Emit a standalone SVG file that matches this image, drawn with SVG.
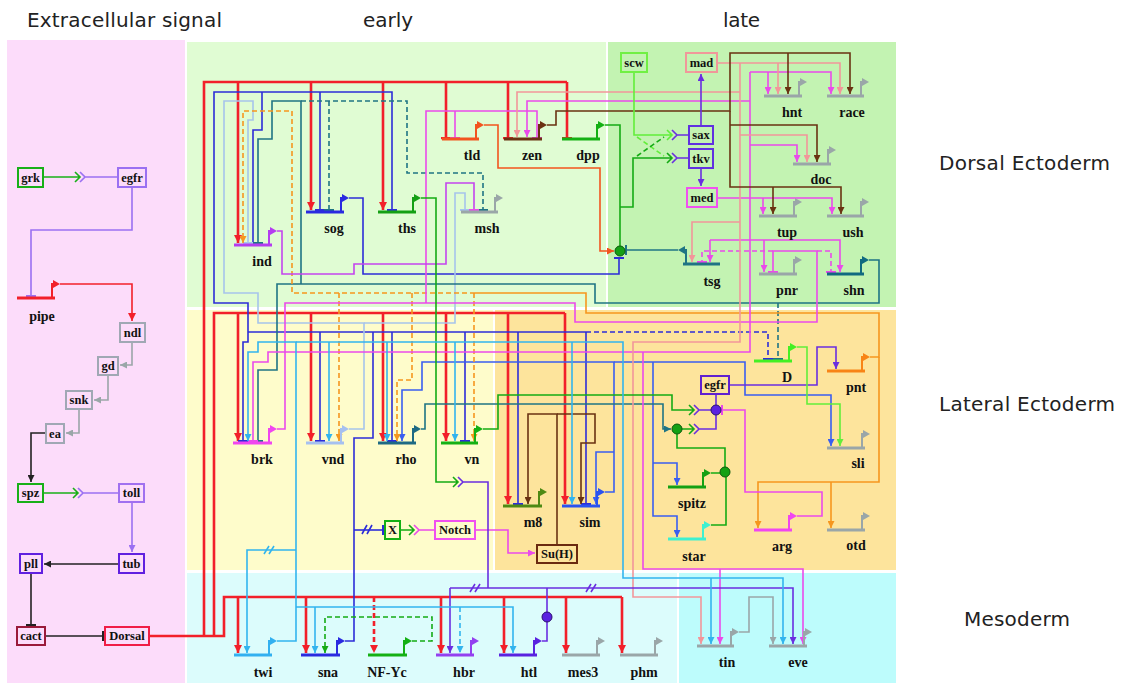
<svg xmlns="http://www.w3.org/2000/svg" width="1122" height="683" viewBox="0 0 1122 683">
<style>
.w{fill:none;stroke-width:1.6}
.rd{fill:none;stroke:#f2202a;stroke-width:2.6}
.d{stroke-dasharray:5 3}
.bar{stroke-width:3;fill:none}
.pr{stroke-width:2;fill:none}
.bxr{fill:none;stroke-width:2}
.lb{font-family:"Liberation Serif",serif;font-weight:bold;font-size:14px;text-anchor:middle;fill:#111}
.bt{font-family:"Liberation Serif",serif;font-weight:bold;font-size:12.5px;text-anchor:middle;fill:#111}
.tt{font-family:"DejaVu Sans",sans-serif;font-size:20px;fill:#222}
</style>
<defs>
<marker id="aR" viewBox="0 0 8 8" refX="8" refY="4" markerWidth="8" markerHeight="8" markerUnits="userSpaceOnUse" orient="auto"><path d="M0,0L8,4L0,8z" fill="#f2202a"/></marker>
<marker id="tR" viewBox="0 0 3 10" refX="1.5" refY="5" markerWidth="3" markerHeight="10" markerUnits="userSpaceOnUse" orient="auto"><path d="M1.5,0V10" stroke="#f2202a" stroke-width="2.5"/></marker>
<marker id="aB" viewBox="0 0 8 8" refX="8" refY="4" markerWidth="7" markerHeight="7" markerUnits="userSpaceOnUse" orient="auto"><path d="M0,0L8,4L0,8z" fill="#2c2cd8"/></marker>
<marker id="tB" viewBox="0 0 3 10" refX="1.5" refY="5" markerWidth="3" markerHeight="10" markerUnits="userSpaceOnUse" orient="auto"><path d="M1.5,0V10" stroke="#2c2cd8" stroke-width="2"/></marker>
<marker id="aB2" viewBox="0 0 8 8" refX="8" refY="4" markerWidth="7" markerHeight="7" markerUnits="userSpaceOnUse" orient="auto"><path d="M0,0L8,4L0,8z" fill="#3a5ef0"/></marker>
<marker id="tLB" viewBox="0 0 3 10" refX="1.5" refY="5" markerWidth="3" markerHeight="10" markerUnits="userSpaceOnUse" orient="auto"><path d="M1.5,0V10" stroke="#a6c4ec" stroke-width="2"/></marker>
<marker id="aC" viewBox="0 0 8 8" refX="8" refY="4" markerWidth="7" markerHeight="7" markerUnits="userSpaceOnUse" orient="auto"><path d="M0,0L8,4L0,8z" fill="#32b4ee"/></marker>
<marker id="aT" viewBox="0 0 8 8" refX="8" refY="4" markerWidth="7" markerHeight="7" markerUnits="userSpaceOnUse" orient="auto"><path d="M0,0L8,4L0,8z" fill="#1f7484"/></marker>
<marker id="tT" viewBox="0 0 3 10" refX="1.5" refY="5" markerWidth="3" markerHeight="10" markerUnits="userSpaceOnUse" orient="auto"><path d="M1.5,0V10" stroke="#1f7484" stroke-width="2"/></marker>
<marker id="aO" viewBox="0 0 8 8" refX="8" refY="4" markerWidth="7" markerHeight="7" markerUnits="userSpaceOnUse" orient="auto"><path d="M0,0L8,4L0,8z" fill="#f6961e"/></marker>
<marker id="aOR" viewBox="0 0 8 8" refX="8" refY="4" markerWidth="7" markerHeight="7" markerUnits="userSpaceOnUse" orient="auto"><path d="M0,0L8,4L0,8z" fill="#f2541e"/></marker>
<marker id="aM" viewBox="0 0 8 8" refX="8" refY="4" markerWidth="7" markerHeight="7" markerUnits="userSpaceOnUse" orient="auto"><path d="M0,0L8,4L0,8z" fill="#ea4aea"/></marker>
<marker id="tM" viewBox="0 0 3 10" refX="1.5" refY="5" markerWidth="3" markerHeight="10" markerUnits="userSpaceOnUse" orient="auto"><path d="M1.5,0V10" stroke="#ea4aea" stroke-width="2"/></marker>
<marker id="aP" viewBox="0 0 8 8" refX="8" refY="4" markerWidth="7" markerHeight="7" markerUnits="userSpaceOnUse" orient="auto"><path d="M0,0L8,4L0,8z" fill="#f2969a"/></marker>
<marker id="aBR" viewBox="0 0 8 8" refX="8" refY="4" markerWidth="7" markerHeight="7" markerUnits="userSpaceOnUse" orient="auto"><path d="M0,0L8,4L0,8z" fill="#6a3212"/></marker>
<marker id="aG" viewBox="0 0 8 8" refX="8" refY="4" markerWidth="7" markerHeight="7" markerUnits="userSpaceOnUse" orient="auto"><path d="M0,0L8,4L0,8z" fill="#14aa14"/></marker>
<marker id="aLG" viewBox="0 0 8 8" refX="8" refY="4" markerWidth="7" markerHeight="7" markerUnits="userSpaceOnUse" orient="auto"><path d="M0,0L8,4L0,8z" fill="#62ee3a"/></marker>
<marker id="aPU" viewBox="0 0 8 8" refX="8" refY="4" markerWidth="7" markerHeight="7" markerUnits="userSpaceOnUse" orient="auto"><path d="M0,0L8,4L0,8z" fill="#6a2ee0"/></marker>
<marker id="aPU2" viewBox="0 0 8 8" refX="8" refY="4" markerWidth="7" markerHeight="7" markerUnits="userSpaceOnUse" orient="auto"><path d="M0,0L8,4L0,8z" fill="#9a70f2"/></marker>
<marker id="tPU2" viewBox="0 0 3 10" refX="1.5" refY="5" markerWidth="3" markerHeight="10" markerUnits="userSpaceOnUse" orient="auto"><path d="M1.5,0V10" stroke="#9a70f2" stroke-width="2"/></marker>
<marker id="aGY" viewBox="0 0 8 8" refX="8" refY="4" markerWidth="7" markerHeight="7" markerUnits="userSpaceOnUse" orient="auto"><path d="M0,0L8,4L0,8z" fill="#9aa6a8"/></marker>
<marker id="aK" viewBox="0 0 8 8" refX="8" refY="4" markerWidth="7" markerHeight="7" markerUnits="userSpaceOnUse" orient="auto"><path d="M0,0L8,4L0,8z" fill="#222"/></marker>
<marker id="tK" viewBox="0 0 3 10" refX="1.5" refY="5" markerWidth="3" markerHeight="10" markerUnits="userSpaceOnUse" orient="auto"><path d="M1.5,0V10" stroke="#222" stroke-width="2"/></marker>
</defs>
<rect width="1122" height="683" fill="#ffffff"/>
<g id="panels">
<rect x="7" y="40" width="178" height="643" fill="#fcdcfa"/>
<rect x="187" y="42" width="419" height="265" fill="#e0fcd3"/>
<rect x="608" y="42" width="288" height="265" fill="#c3f3b2"/>
<rect x="187" y="310" width="306" height="260" fill="#fefccb"/>
<rect x="495" y="310" width="401" height="260" fill="#fde49c"/>
<rect x="187" y="573" width="490" height="110" fill="#dcfcfc"/>
<rect x="679" y="573" width="217" height="110" fill="#bdfcfc"/>
</g>
<g id="titles">
<text class="tt" x="27" y="27" textLength="195">Extracellular signal</text>
<text class="tt" x="363" y="27" textLength="50">early</text>
<text class="tt" x="723" y="27" textLength="37">late</text>
<text class="tt" x="939" y="170" textLength="171">Dorsal Ectoderm</text>
<text class="tt" x="939" y="411" textLength="176">Lateral Ectoderm</text>
<text class="tt" x="964" y="626" textLength="106">Mesoderm</text>
</g>
<g id="connectors">
<path class="w" stroke="#18b018" d="M43,177 H80 M75,172 L80,177 L75,182"/>
<path class="w" stroke="#9a70f2" d="M80,172 L85,177 L80,182 M85,177 H118"/>
<path class="w" stroke="#9a70f2" d="M132,187 V230 H31 V296" marker-end="url(#tPU2)"/>
<path class="w" stroke="#f2202a" stroke-width="2" d="M60,284 H132 V321" marker-end="url(#aR)"/>
<path class="w" stroke="#9aa6a8" d="M132,342 V365 H120" marker-end="url(#aGY)"/>
<path class="w" stroke="#9aa6a8" d="M108,375 V400 H94" marker-end="url(#aGY)"/>
<path class="w" stroke="#9aa6a8" d="M79,409 V433 H66" marker-end="url(#aGY)"/>
<path class="w" stroke="#222" d="M46,433 H31 V482" marker-end="url(#aK)"/>
<path class="w" stroke="#18b018" d="M43,493 H78 M73,488 L78,493 L73,498"/>
<path class="w" stroke="#9a70f2" d="M78,488 L83,493 L78,498 M83,493 H119"/>
<path class="w" stroke="#9a70f2" d="M132,502 V552" marker-end="url(#aPU2)"/>
<path class="w" stroke="#222" d="M119,564 H44" marker-end="url(#aK)"/>
<path class="w" stroke="#222" d="M31,573 V625" marker-end="url(#tK)"/>
<path class="w" stroke="#222" d="M45,636 H103" marker-end="url(#tK)"/>
<path class="rd" d="M149,636 H224 V597 H622"/>
<path class="rd" d="M204,636 V82 H567"/>
<path class="rd" d="M214,636 V313 H565"/>
<path class="rd" d="M238,82 V243" marker-end="url(#aR)"/>
<path class="rd" d="M311,82 V210" marker-end="url(#aR)"/>
<path class="rd" d="M383,82 V210" marker-end="url(#aR)"/>
<path class="rd" d="M446,82 V138" marker-end="url(#tR)"/>
<path class="rd" d="M508,82 V138" marker-end="url(#tR)"/>
<path class="rd" d="M567,82 V138" marker-end="url(#tR)"/>
<path class="rd" d="M238,313 V441" marker-end="url(#aR)"/>
<path class="rd" d="M311,313 V441" marker-end="url(#aR)"/>
<path class="rd" d="M383,313 V441" marker-end="url(#aR)"/>
<path class="rd" d="M446,313 V441" marker-end="url(#aR)"/>
<path class="rd" d="M508,313 V504" marker-end="url(#aR)"/>
<path class="rd" d="M565,313 V504" marker-end="url(#aR)"/>
<path class="rd" d="M238,597 V653" marker-end="url(#aR)"/>
<path class="rd" d="M306,597 V653" marker-end="url(#aR)"/>
<path class="rd d" stroke-width="1.6" d="M374,597 V653" marker-end="url(#aR)"/>
<path class="rd" d="M441,597 V653" marker-end="url(#aR)"/>
<path class="rd" d="M504,597 V653" marker-end="url(#aR)"/>
<path class="rd" d="M566,597 V653" marker-end="url(#aR)"/>
<path class="rd" d="M622,597 V653" marker-end="url(#aR)"/>
<path class="w" stroke="#2c2cd8" d="M392,210 V92 H214 V303 H248 V342 H243 V441" marker-start="url(#tB)" marker-end="url(#tB)"/>
<path class="w" stroke="#2c2cd8" d="M262,92 V130 H253 V243" marker-end="url(#tB)"/>
<path class="w" stroke="#2c2cd8" d="M320,92 V210" marker-end="url(#tB)"/>
<path class="w" stroke="#2c2cd8" d="M248,332 H586"/>
<path class="w d" stroke="#2c2cd8" d="M586,332 H768 V359" marker-end="url(#tB)"/>
<path class="w" stroke="#2c2cd8" d="M320,332 V441" marker-end="url(#tB)"/>
<path class="w" stroke="#2c2cd8" d="M392,332 V441" marker-end="url(#tB)"/>
<path class="w" stroke="#2c2cd8" d="M465,332 V441" marker-end="url(#tB)"/>
<path class="w" stroke="#2c2cd8" d="M518,332 V504" marker-end="url(#tB)"/>
<path class="w" stroke="#2c2cd8" d="M586,332 V504" marker-end="url(#tB)"/>
<path class="w" stroke="#2c2cd8" d="M345,641 H354 V438 H373 V332"/>
<path class="w" stroke="#2c2cd8" d="M354,530 H383" marker-end="url(#tB)"/>
<path class="w" stroke="#2c2cd8" d="M362,534 L367,525 M367,534 L372,525"/>
<path class="w" stroke="#2c2cd8" d="M349,198 H363 V274 H619 V258" marker-end="url(#tB)"/>
<path class="w" stroke="#3a5ef0" d="M605,492 H614 V362 H422 V390 H402 V441" marker-end="url(#aB2)"/>
<path class="w" stroke="#3a5ef0" d="M614,362 H745 V395 H831 V446" marker-end="url(#aB2)"/>
<path class="w" stroke="#3a5ef0" d="M653,362 V516 H677 V537" marker-end="url(#aB2)"/>
<path class="w" stroke="#3a5ef0" d="M653,463 H677 V485" marker-end="url(#aB2)"/>
<path class="w" stroke="#3a5ef0" d="M614,452 H596 V504" marker-end="url(#aB2)"/>
<path class="w" stroke="#a6c4ec" d="M349,429 H364 V323 H258 V293 H224 V101 H253 V120 H248 V243" marker-end="url(#tLB)"/>
<path class="w" stroke="#a6c4ec" d="M364,323 H455 V193 H465 V210" marker-end="url(#tLB)"/>
<path class="w" stroke="#1f7484" d="M869,260 H879 V303 H595 V284 H277 V370 H258 V441" marker-end="url(#tT)"/>
<path class="w" stroke="#1f7484" d="M301,284 V101 H272 V139 H258 V243" marker-end="url(#tT)"/>
<path class="w d" stroke="#1f7484" d="M301,101 H407 V173 H483 V210" marker-end="url(#tT)"/>
<path class="w d" stroke="#1f7484" d="M329,101 V210" marker-end="url(#tT)"/>
<path class="w d" stroke="#1f7484" d="M778,303 V359" marker-end="url(#tT)"/>
<path class="w" stroke="#1f7484" d="M678,250 H626" marker-end="url(#tT)"/>
<path class="w" stroke="#1f7484" d="M421,429 H425 V404 H663 V429 H671" marker-end="url(#aT)"/>
<path class="w" stroke="#f6961e" d="M870,357 H879 V313 H586 V293 H475"/>
<path class="w d" stroke="#f6961e" d="M475,293 H292 V111 H243 V243" marker-end="url(#aO)"/>
<path class="w d" stroke="#f6961e" d="M339,293 V441" marker-end="url(#aO)"/>
<path class="w d" stroke="#f6961e" d="M412,293 V380 H397 V441" marker-end="url(#aO)"/>
<path class="w d" stroke="#f6961e" d="M474,293 V441" marker-end="url(#aO)"/>
<path class="w" stroke="#f6961e" d="M879,357 V482 H758 V528" marker-end="url(#aO)"/>
<path class="w" stroke="#f6961e" d="M831,482 V528" marker-end="url(#aO)"/>
<path class="w" stroke="#f2541e" d="M484,125 H498 V168 H600 V251 H614" marker-end="url(#aOR)"/>
<path class="w" stroke="#ea4aea" d="M277,429 H285 V303 H575 V322 H817 V251 H773 V272" marker-end="url(#tM)"/>
<path class="w d" stroke="#ea4aea" d="M773,251 H702 V262" marker-end="url(#tM)"/>
<path class="w d" stroke="#ea4aea" d="M817,251 H831 V272" marker-end="url(#tM)"/>
<path class="w" stroke="#ea4aea" d="M426,303 V111 H537 V138" marker-end="url(#tM)"/>
<path class="w" stroke="#ea4aea" d="M455,111 V138" marker-end="url(#tM)"/>
<path class="w" stroke="#c444ee" d="M277,231 H282 V274 H354 V264 H446 V183 H474 V210" marker-end="url(#tM)"/>
<path class="w" stroke="#ea4aea" d="M750,101 H527 V137" marker-end="url(#aM)"/>
<path class="w" stroke="#ea4aea" d="M750,72 V352 H268 V362 H253 V441" marker-end="url(#tM)"/>
<path class="w" stroke="#ea4aea" d="M750,72 H831 V94" marker-end="url(#aM)"/>
<path class="w" stroke="#ea4aea" d="M768,72 V94" marker-end="url(#aM)"/>
<path class="w" stroke="#ea4aea" d="M750,145 H797 V162" marker-end="url(#aM)"/>
<path class="w" stroke="#ea4aea" d="M710,240 H840 V272" marker-end="url(#aM)"/>
<path class="w" stroke="#ea4aea" d="M710,240 V262" marker-end="url(#aM)"/>
<path class="w" stroke="#ea4aea" d="M764,240 V272" marker-end="url(#aM)"/>
<path class="w" stroke="#ea4aea" d="M643,352 V569 H803 V644" marker-end="url(#aM)"/>
<path class="w" stroke="#ea4aea" d="M720,569 V644" marker-end="url(#aM)"/>
<path class="w" stroke="#ea4aea" d="M717,198 H832 V214" marker-end="url(#aM)"/>
<path class="w" stroke="#ea4aea" d="M763,198 V214" marker-end="url(#aM)"/>
<path class="w" stroke="#ea4aea" d="M797,516 H822 V492 H745 V410 H722" marker-end="url(#tM)"/>
<path class="w" stroke="#ea4aea" d="M475,530 H508 V553 H535" marker-end="url(#aM)"/>
<path class="w" stroke="#f2969a" d="M717,63 H840 V94" marker-end="url(#aP)"/>
<path class="w" stroke="#f2969a" d="M778,63 V94" marker-end="url(#aP)"/>
<path class="w" stroke="#f2969a" d="M740,63 V342 H633 V597 H701 V644" marker-end="url(#aP)"/>
<path class="w" stroke="#f2969a" d="M740,92 H517 V137" marker-end="url(#aP)"/>
<path class="w" stroke="#f2969a" d="M740,135 H807 V162" marker-end="url(#aP)"/>
<path class="w" stroke="#f2969a" d="M740,222 H692 V262" marker-end="url(#aP)"/>
<path class="w" stroke="#6a3212" d="M547,125 H556 V111 H730 V53 H850 V94" marker-end="url(#aBR)"/>
<path class="w" stroke="#6a3212" d="M788,53 V94" marker-end="url(#aBR)"/>
<path class="w" stroke="#6a3212" d="M730,111 V187 H841 V214" marker-end="url(#aBR)"/>
<path class="w" stroke="#6a3212" d="M773,187 V214" marker-end="url(#aBR)"/>
<path class="w" stroke="#6a3212" d="M730,125 H817 V162" marker-end="url(#aBR)"/>
<path class="w" stroke="#6a3212" d="M557,545 V414 H528 V504" marker-end="url(#aBR)"/>
<path class="w" stroke="#6a3212" d="M557,414 H595 V443 H581 V504" marker-end="url(#aBR)"/>
<path class="w" stroke="#14aa14" d="M421,198 H436 V482 H458 M453,477 L458,482 L453,487"/>
<path class="w" stroke="#6a2ee0" d="M458,477 L463,482 L458,487 M463,482 H488 V588"/>
<path class="w" stroke="#14aa14" d="M605,125 H620 V246"/>
<path class="w" stroke="#14aa14" d="M620,207 H633 V158 H672 M667,153 L672,158 L667,163"/>
<path class="w" stroke="#62ee3a" d="M634,72 V135 H672 M667,130 L672,135 L667,140"/>
<path class="w d" stroke="#62ee3a" d="M637,137 L664,156"/>
<path class="w d" stroke="#14aa14" d="M637,156 L664,137"/>
<path class="w" stroke="#6a2ee0" d="M672,130 L677,135 L672,140 M677,135 H689 M672,153 L677,158 L672,163 M677,158 H689"/>
<path class="w" stroke="#6a2ee0" d="M701,126 V74" marker-end="url(#aPU)"/>
<path class="w" stroke="#6a2ee0" d="M701,168 V186" marker-end="url(#aPU)"/>
<path class="w" stroke="#14aa14" d="M483,429 H498 V395 H672 V410 H694 M689,405 L694,410 L689,415"/>
<path class="w" stroke="#14aa14" d="M682,429 H694 M689,424 L694,429 L689,434"/>
<path class="w" stroke="#6a2ee0" d="M694,405 L699,410 L694,415 M699,410 H711 M694,424 L699,429 L694,434 M699,429 H716 V415 M716,394 V405"/>
<path class="w" stroke="#6a2ee0" d="M729,385 H817 V347 H836 V369" marker-end="url(#aPU)"/>
<path class="w" stroke="#14aa14" d="M711,473 H720 M711,525 H726 V477 M725,467 V448 H677 V434"/>
<path class="w" stroke="#62ee3a" d="M797,347 H807 V404 H840 V446" marker-end="url(#aLG)"/>
<path class="w" stroke="#14aa14" d="M400,530 H414 M409,525 L414,530 L409,535"/>
<path class="w" stroke="#ea4aea" d="M414,525 L419,530 L414,535 M419,530 H435"/>
<path class="w d" stroke="#14aa14" d="M412,641 H432 V617 H325 V653" marker-end="url(#aG)"/>
<path class="w" stroke="#6a2ee0" d="M450,588 H793 V644" marker-end="url(#aPU)"/>
<path class="w" stroke="#6a2ee0" d="M450,588 V653" marker-end="url(#aPU)"/>
<path class="w" stroke="#6a2ee0" d="M542,641 H547 V588"/>
<path class="w" stroke="#6a2ee0" d="M470,592 L475,584 M475,592 L480,584 M586,592 L591,584 M591,592 L596,584"/>
<path class="w" stroke="#32b4ee" d="M277,641 H296 V342 H258 V352 H248 V441" marker-end="url(#aC)"/>
<path class="w" stroke="#32b4ee" d="M296,342 H623 V578 H783 V644" marker-end="url(#aC)"/>
<path class="w" stroke="#32b4ee" d="M329,342 V441" marker-end="url(#aC)"/>
<path class="w" stroke="#32b4ee" d="M387,342 V441" marker-end="url(#aC)"/>
<path class="w" stroke="#32b4ee" d="M455,342 V441" marker-end="url(#aC)"/>
<path class="w" stroke="#32b4ee" d="M572,342 V504" marker-end="url(#aC)"/>
<path class="w" stroke="#32b4ee" d="M711,578 V644" marker-end="url(#aC)"/>
<path class="w" stroke="#32b4ee" d="M296,607 H513 V653" marker-end="url(#aC)"/>
<path class="w" stroke="#32b4ee" d="M315,607 V653" marker-end="url(#aC)"/>
<path class="w d" stroke="#32b4ee" d="M460,607 V653" marker-end="url(#aC)"/>
<path class="w" stroke="#32b4ee" d="M296,550 H247 V653" marker-end="url(#aC)"/>
<path class="w" stroke="#32b4ee" d="M264,554 L269,546 M269,554 L274,546"/>
<path class="w" stroke="#9aa6a8" d="M739,632 H749 V597 H773 V644" marker-end="url(#aGY)"/>
<circle cx="620" cy="251" r="5" fill="#14a014" stroke="#0a5a0a" stroke-width="1"/>
<circle cx="716" cy="410" r="5" fill="#5a22e0" stroke="#2a1070" stroke-width="1"/>
<circle cx="677" cy="429" r="5" fill="#14a014" stroke="#0a5a0a" stroke-width="1"/>
<circle cx="725" cy="472" r="5" fill="#14a014" stroke="#0a5a0a" stroke-width="1"/>
<circle cx="547" cy="617" r="5" fill="#5a22e0" stroke="#2a1070" stroke-width="1"/>
</g>
<g id="grk"><rect class="bxr" x="18" y="168" width="25" height="19" stroke="#18b018"/><text class="bt" x="30.5" y="182">grk</text></g>
<g id="egfr1"><rect class="bxr" x="118" y="168" width="28" height="19" stroke="#9a70f2"/><text class="bt" x="132" y="182">egfr</text></g>
<g id="ndl"><rect class="bxr" x="120" y="323" width="25" height="19" stroke="#a0a8b4"/><text class="bt" x="132.5" y="337">ndl</text></g>
<g id="gd"><rect class="bxr" x="98" y="357" width="20" height="18" stroke="#a0a8b4"/><text class="bt" x="108" y="370">gd</text></g>
<g id="snk"><rect class="bxr" x="66" y="391" width="26" height="18" stroke="#a0a8b4"/><text class="bt" x="79" y="404">snk</text></g>
<g id="ea"><rect class="bxr" x="46" y="424" width="18" height="19" stroke="#a0a8b4"/><text class="bt" x="55" y="438">ea</text></g>
<g id="spz"><rect class="bxr" x="18" y="484" width="25" height="18" stroke="#18b018"/><text class="bt" x="30.5" y="497">spz</text></g>
<g id="toll"><rect class="bxr" x="119" y="484" width="25" height="18" stroke="#a070f0"/><text class="bt" x="131.5" y="497">toll</text></g>
<g id="tub"><rect class="bxr" x="119" y="554" width="25" height="19" stroke="#6020e0"/><text class="bt" x="131.5" y="568">tub</text></g>
<g id="pll"><rect class="bxr" x="20" y="554" width="22" height="19" stroke="#6020e0"/><text class="bt" x="31" y="568">pll</text></g>
<g id="cact"><rect class="bxr" x="17" y="627" width="28" height="18" stroke="#9a1a3a"/><text class="bt" x="31" y="640">cact</text></g>
<g id="Dorsal"><rect class="bxr" x="105" y="627" width="44" height="18" stroke="#f01e46"/><text class="bt" x="127" y="640">Dorsal</text></g>
<g id="scw"><rect class="bxr" x="621" y="53" width="26" height="19" stroke="#70f044"/><text class="bt" x="634" y="67">scw</text></g>
<g id="mad"><rect class="bxr" x="686" y="53" width="31" height="19" stroke="#f0989a"/><text class="bt" x="701.5" y="67">mad</text></g>
<g id="sax"><rect class="bxr" x="689" y="126" width="24" height="18" stroke="#6030e0"/><text class="bt" x="701" y="139">sax</text></g>
<g id="tkv"><rect class="bxr" x="689" y="149" width="24" height="19" stroke="#6030e0"/><text class="bt" x="701" y="163">tkv</text></g>
<g id="med"><rect class="bxr" x="687" y="188" width="30" height="19" stroke="#f050f0"/><text class="bt" x="702" y="202">med</text></g>
<g id="egfr2"><rect class="bxr" x="701" y="376" width="28" height="18" stroke="#6020d0"/><text class="bt" x="715" y="389">egfr</text></g>
<g id="X"><rect class="bxr" x="385" y="521" width="15" height="18" stroke="#14b014"/><text class="bt" x="392.5" y="534">X</text></g>
<g id="Notch"><rect class="bxr" x="435" y="521" width="40" height="18" stroke="#f050f0"/><text class="bt" x="455" y="534">Notch</text></g>
<g id="SuH"><rect class="bxr" x="537" y="545" width="40" height="18" stroke="#6a2a10"/><text class="bt" x="557" y="558">Su(H)</text></g>
<g id="pipe"><path class="bar" stroke="#f2202a" d="M17,298 H55"/><path class="pr" stroke="#f2202a" d="M52,298 V284 H54"/><path d="M53,280 L60,284 L53,288z" fill="#f2202a"/><text class="lb" x="42" y="321">pipe</text></g>
<g id="ind"><path class="bar" stroke="#b43cf0" d="M234,245 H272"/><path class="pr" stroke="#b43cf0" d="M269,245 V231 H271"/><path d="M270,227 L277,231 L270,235z" fill="#b43cf0"/><text class="lb" x="262" y="266">ind</text></g>
<g id="sog"><path class="bar" stroke="#2a2ae0" d="M306,212 H344"/><path class="pr" stroke="#2a2ae0" d="M341,212 V198 H343"/><path d="M342,194 L349,198 L342,202z" fill="#2a2ae0"/><text class="lb" x="334" y="233">sog</text></g>
<g id="ths"><path class="bar" stroke="#14a014" d="M378,212 H416"/><path class="pr" stroke="#14a014" d="M413,212 V198 H415"/><path d="M414,194 L421,198 L414,202z" fill="#14a014"/><text class="lb" x="407" y="233">ths</text></g>
<g id="tld"><path class="bar" stroke="#f2541e" d="M442,139 H479"/><path class="pr" stroke="#f2541e" d="M476,139 V125 H478"/><path d="M477,121 L484,125 L477,129z" fill="#f2541e"/><text class="lb" x="472" y="160">tld</text></g>
<g id="zen"><path class="bar" stroke="#6a3212" d="M504,139 H542"/><path class="pr" stroke="#6a3212" d="M539,139 V125 H541"/><path d="M540,121 L547,125 L540,129z" fill="#6a3212"/><text class="lb" x="532" y="160">zen</text></g>
<g id="dpp"><path class="bar" stroke="#14b014" d="M562,139 H600"/><path class="pr" stroke="#14b014" d="M597,139 V125 H599"/><path d="M598,121 L605,125 L598,129z" fill="#14b014"/><text class="lb" x="588" y="160">dpp</text></g>
<g id="msh"><path class="bar" stroke="#9aa6a8" d="M461,212 H498"/><path class="pr" stroke="#9aa6a8" d="M495,212 V198 H497"/><path d="M496,194 L503,198 L496,202z" fill="#9aa6a8"/><text class="lb" x="487" y="233">msh</text></g>
<g id="hnt"><path class="bar" stroke="#9aa6a8" d="M764,96 H802"/><path class="pr" stroke="#9aa6a8" d="M799,96 V82 H801"/><path d="M800,78 L807,82 L800,86z" fill="#9aa6a8"/><text class="lb" x="792" y="117">hnt</text></g>
<g id="race"><path class="bar" stroke="#9aa6a8" d="M827,96 H864"/><path class="pr" stroke="#9aa6a8" d="M861,96 V82 H863"/><path d="M862,78 L869,82 L862,86z" fill="#9aa6a8"/><text class="lb" x="852" y="117">race</text></g>
<g id="doc"><path class="bar" stroke="#9aa6a8" d="M793,164 H831"/><path class="pr" stroke="#9aa6a8" d="M828,164 V150 H830"/><path d="M829,146 L836,150 L829,154z" fill="#9aa6a8"/><text class="lb" x="821" y="184">doc</text></g>
<g id="tup"><path class="bar" stroke="#9aa6a8" d="M759,216 H797"/><path class="pr" stroke="#9aa6a8" d="M794,216 V202 H796"/><path d="M795,198 L802,202 L795,206z" fill="#9aa6a8"/><text class="lb" x="787" y="237">tup</text></g>
<g id="ush"><path class="bar" stroke="#9aa6a8" d="M827,216 H864"/><path class="pr" stroke="#9aa6a8" d="M861,216 V202 H863"/><path d="M862,198 L869,202 L862,206z" fill="#9aa6a8"/><text class="lb" x="853" y="237">ush</text></g>
<g id="tsg"><path class="bar" stroke="#1f7484" d="M683,264 H720"/><path class="pr" stroke="#1f7484" d="M686,264 V250 H684"/><path d="M685,246 L678,250 L685,254z" fill="#1f7484"/><text class="lb" x="712" y="286">tsg</text></g>
<g id="pnr"><path class="bar" stroke="#9aa6a8" d="M759,274 H797"/><path class="pr" stroke="#9aa6a8" d="M794,274 V260 H796"/><path d="M795,256 L802,260 L795,264z" fill="#9aa6a8"/><text class="lb" x="787" y="295">pnr</text></g>
<g id="shn"><path class="bar" stroke="#106a80" d="M827,274 H864"/><path class="pr" stroke="#106a80" d="M861,274 V260 H863"/><path d="M862,256 L869,260 L862,264z" fill="#106a80"/><text class="lb" x="854" y="295">shn</text></g>
<g id="brk"><path class="bar" stroke="#f046f0" d="M233,443 H272"/><path class="pr" stroke="#f046f0" d="M269,443 V429 H271"/><path d="M270,425 L277,429 L270,433z" fill="#f046f0"/><text class="lb" x="262" y="464">brk</text></g>
<g id="vnd"><path class="bar" stroke="#a6c0f0" d="M306,443 H344"/><path class="pr" stroke="#a6c0f0" d="M341,443 V429 H343"/><path d="M342,425 L349,429 L342,433z" fill="#a6c0f0"/><text class="lb" x="333" y="464">vnd</text></g>
<g id="rho"><path class="bar" stroke="#1e6a84" d="M378,443 H416"/><path class="pr" stroke="#1e6a84" d="M413,443 V429 H415"/><path d="M414,425 L421,429 L414,433z" fill="#1e6a84"/><text class="lb" x="406" y="464">rho</text></g>
<g id="vn"><path class="bar" stroke="#14b014" d="M441,443 H478"/><path class="pr" stroke="#14b014" d="M475,443 V429 H477"/><path d="M476,425 L483,429 L476,433z" fill="#14b014"/><text class="lb" x="472" y="464">vn</text></g>
<g id="m8"><path class="bar" stroke="#4e8a14" d="M503,506 H542"/><path class="pr" stroke="#4e8a14" d="M539,506 V492 H541"/><path d="M540,488 L547,492 L540,496z" fill="#4e8a14"/><text class="lb" x="533" y="527">m8</text></g>
<g id="sim"><path class="bar" stroke="#2a52f0" d="M562,506 H600"/><path class="pr" stroke="#2a52f0" d="M597,506 V492 H599"/><path d="M598,488 L605,492 L598,496z" fill="#2a52f0"/><text class="lb" x="590" y="527">sim</text></g>
<g id="D"><path class="bar" stroke="#44f024" d="M754,361 H792"/><path class="pr" stroke="#44f024" d="M789,361 V347 H791"/><path d="M790,343 L797,347 L790,351z" fill="#44f024"/><text class="lb" x="787" y="382">D</text></g>
<g id="pnt"><path class="bar" stroke="#f88416" d="M827,371 H865"/><path class="pr" stroke="#f88416" d="M862,371 V357 H864"/><path d="M863,353 L870,357 L863,361z" fill="#f88416"/><text class="lb" x="856" y="392">pnt</text></g>
<g id="sli"><path class="bar" stroke="#9aa6a8" d="M827,448 H865"/><path class="pr" stroke="#9aa6a8" d="M862,448 V434 H864"/><path d="M863,430 L870,434 L863,438z" fill="#9aa6a8"/><text class="lb" x="858" y="468">sli</text></g>
<g id="spitz"><path class="bar" stroke="#14a014" d="M668,487 H706"/><path class="pr" stroke="#14a014" d="M703,487 V473 H705"/><path d="M704,469 L711,473 L704,477z" fill="#14a014"/><text class="lb" x="692" y="508">spitz</text></g>
<g id="star"><path class="bar" stroke="#3ef0d0" d="M668,539 H706"/><path class="pr" stroke="#3ef0d0" d="M703,539 V525 H705"/><path d="M704,521 L711,525 L704,529z" fill="#3ef0d0"/><text class="lb" x="694" y="561">star</text></g>
<g id="arg"><path class="bar" stroke="#f046f0" d="M754,530 H792"/><path class="pr" stroke="#f046f0" d="M789,530 V516 H791"/><path d="M790,512 L797,516 L790,520z" fill="#f046f0"/><text class="lb" x="782" y="551">arg</text></g>
<g id="otd"><path class="bar" stroke="#9aa6a8" d="M827,530 H865"/><path class="pr" stroke="#9aa6a8" d="M862,530 V516 H864"/><path d="M863,512 L870,516 L863,520z" fill="#9aa6a8"/><text class="lb" x="856" y="550">otd</text></g>
<g id="twi"><path class="bar" stroke="#32b0f0" d="M234,655 H272"/><path class="pr" stroke="#32b0f0" d="M269,655 V641 H271"/><path d="M270,637 L277,641 L270,645z" fill="#32b0f0"/><text class="lb" x="263" y="677">twi</text></g>
<g id="sna"><path class="bar" stroke="#2a2ae0" d="M301,655 H340"/><path class="pr" stroke="#2a2ae0" d="M337,655 V641 H339"/><path d="M338,637 L345,641 L338,645z" fill="#2a2ae0"/><text class="lb" x="328" y="677">sna</text></g>
<g id="NF-Yc"><path class="bar" stroke="#14b014" d="M368,655 H407"/><path class="pr" stroke="#14b014" d="M404,655 V641 H406"/><path d="M405,637 L412,641 L405,645z" fill="#14b014"/><text class="lb" x="387" y="677">NF-Yc</text></g>
<g id="hbr"><path class="bar" stroke="#9440f0" d="M436,655 H474"/><path class="pr" stroke="#9440f0" d="M471,655 V641 H473"/><path d="M472,637 L479,641 L472,645z" fill="#9440f0"/><text class="lb" x="464" y="677">hbr</text></g>
<g id="htl"><path class="bar" stroke="#5a22e0" d="M499,655 H537"/><path class="pr" stroke="#5a22e0" d="M534,655 V641 H536"/><path d="M535,637 L542,641 L535,645z" fill="#5a22e0"/><text class="lb" x="529" y="677">htl</text></g>
<g id="mes3"><path class="bar" stroke="#9aa6a8" d="M562,655 H600"/><path class="pr" stroke="#9aa6a8" d="M597,655 V641 H599"/><path d="M598,637 L605,641 L598,645z" fill="#9aa6a8"/><text class="lb" x="583" y="677">mes3</text></g>
<g id="phm"><path class="bar" stroke="#9aa6a8" d="M620,655 H658"/><path class="pr" stroke="#9aa6a8" d="M655,655 V641 H657"/><path d="M656,637 L663,641 L656,645z" fill="#9aa6a8"/><text class="lb" x="644" y="677">phm</text></g>
<g id="tin"><path class="bar" stroke="#9aa6a8" d="M697,646 H734"/><path class="pr" stroke="#9aa6a8" d="M731,646 V632 H733"/><path d="M732,628 L739,632 L732,636z" fill="#9aa6a8"/><text class="lb" x="727" y="667">tin</text></g>
<g id="eve"><path class="bar" stroke="#9aa6a8" d="M769,646 H807"/><path class="pr" stroke="#9aa6a8" d="M804,646 V632 H806"/><path d="M805,628 L812,632 L805,636z" fill="#9aa6a8"/><text class="lb" x="798" y="667">eve</text></g>
</svg>
